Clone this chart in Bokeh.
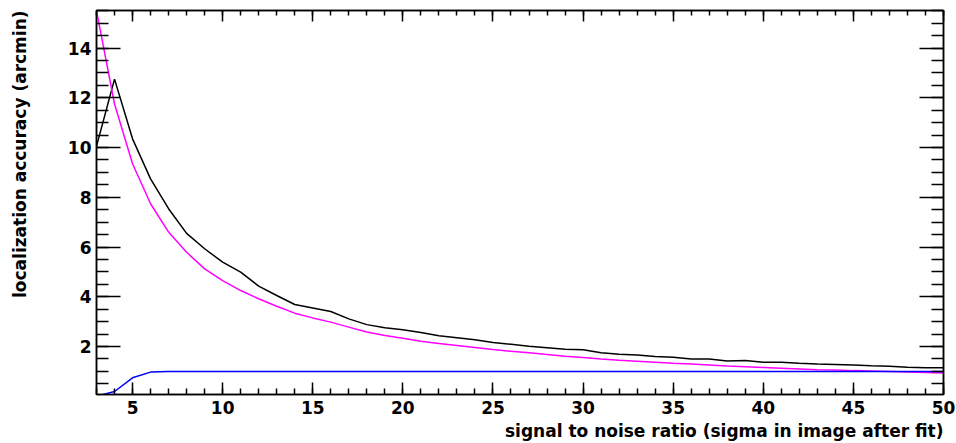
from bokeh.plotting import figure
from bokeh.models import LinearAxis, SingleIntervalTicker, Range1d, Title
from bokeh.embed import file_html
from bokeh.resources import INLINE

snr = list(range(3, 51))

measured = [10.05, 12.75, 10.35, 8.74, 7.54, 6.55, 5.93, 5.39, 4.99, 4.43,
            4.05, 3.69, 3.55, 3.41, 3.11, 2.88, 2.75, 2.67, 2.56, 2.43,
            2.35, 2.27, 2.16, 2.09, 2.01, 1.95, 1.89, 1.87, 1.75, 1.69,
            1.66, 1.60, 1.57, 1.50, 1.50, 1.42, 1.44, 1.37, 1.37, 1.33,
            1.30, 1.28, 1.26, 1.23, 1.21, 1.17, 1.15, 1.15]

expected = [15.50, 11.75, 9.35, 7.74, 6.60, 5.79, 5.12, 4.65, 4.25, 3.92,
            3.62, 3.34, 3.15, 2.98, 2.78, 2.58, 2.44, 2.33, 2.21, 2.12,
            2.04, 1.96, 1.88, 1.81, 1.75, 1.68, 1.61, 1.56, 1.50, 1.45,
            1.41, 1.37, 1.33, 1.30, 1.26, 1.22, 1.19, 1.16, 1.13, 1.10,
            1.07, 1.06, 1.03, 1.01, 0.99, 0.97, 0.95, 0.93]

efficiency = [0.0, 0.19, 0.74, 0.97, 0.99, 0.99, 0.99, 0.99, 0.99, 0.99,
              0.99, 0.99, 0.99, 0.99, 0.99, 0.99, 0.99, 0.99, 0.99, 0.99,
              0.99, 0.99, 0.99, 0.99, 0.99, 0.99, 0.99, 0.99, 0.99, 0.99,
              0.99, 0.99, 0.99, 0.99, 0.99, 0.99, 0.99, 0.99, 0.99, 0.99,
              0.99, 0.99, 0.99, 0.99, 0.99, 0.99, 0.99, 0.99]

x_title = "signal to noise ratio (sigma in image after fit)"
y_title = "localization accuracy (arcmin)"

FONT = "DejaVu Sans"

p = figure(width=956, height=443, output_backend="svg", toolbar_location=None,
           x_range=Range1d(3, 50), y_range=Range1d(0.07, 15.51),
           x_axis_location=None, y_axis_location=None,
           min_border_left=96, min_border_right=13, min_border_top=10,
           min_border_bottom=49)
p.grid.visible = False
p.outline_line_color = "black"
p.outline_line_width = 1.5
p.background_fill_color = "white"
p.border_fill_color = "white"


def make_axis(kind, show_labels, major_in, minor_in):
    if kind == "x":
        ax = LinearAxis(ticker=SingleIntervalTicker(interval=5, num_minor_ticks=5))
    else:
        ax = LinearAxis(ticker=SingleIntervalTicker(interval=2, num_minor_ticks=4))
    ax.axis_line_color = "black"
    ax.axis_line_width = 1.5
    ax.major_tick_in = major_in
    ax.major_tick_out = 0
    ax.minor_tick_in = minor_in
    ax.minor_tick_out = 0
    ax.major_tick_line_width = 1.5
    ax.minor_tick_line_width = 1.5
    ax.major_label_text_font = FONT
    ax.major_label_text_font_style = "bold"
    if show_labels:
        ax.major_label_text_font_size = "17px"
        ax.major_label_text_color = "black"
    else:
        ax.major_label_text_font_size = "0px"
        ax.major_label_text_color = None
        ax.major_label_standoff = 0
    return ax


bottom = make_axis("x", True, 12, 6)
bottom.major_label_standoff = 6
top = make_axis("x", False, 11, 5)
left = make_axis("y", True, 24, 12)
left.major_label_standoff = 5
left.axis_label = " "
left.axis_label_text_font_size = "17px"
left.axis_label_standoff = 6
right = make_axis("y", False, 24, 12)
p.add_layout(bottom, "below")
p.add_layout(top, "above")
p.add_layout(left, "left")
p.add_layout(right, "right")

p.add_layout(Title(text=x_title, align="right", text_font=FONT,
                   text_font_style="bold", text_font_size="17px",
                   text_color="black", standoff=5), "below")
p.add_layout(Title(text=y_title, align="right", text_font=FONT,
                   text_font_style="bold", text_font_size="17px",
                   text_color="black", standoff=14), "left")

p.line(snr, measured, line_color="black", line_width=1.5)
p.line(snr, expected, line_color="#ff00ff", line_width=1.5)
p.line(snr, efficiency, line_color="#0000ff", line_width=1.5)

open("out.html", "w").write(file_html(p, INLINE))
